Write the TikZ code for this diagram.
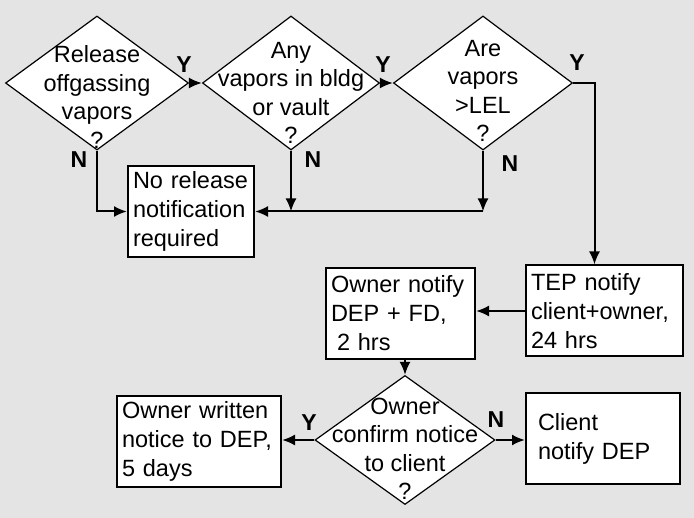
\documentclass[tikz,border=0pt]{standalone}
\usepackage{fontspec}
\setmainfont{Liberation Sans}
\usetikzlibrary{
    arrows.meta,
    shapes.geometric
}
\definecolor{panelgray}{RGB}{228,228,228}

\begin{document}
\begin{tikzpicture}[x=1pt, y=-1pt,
    decision/.style={diamond, draw, fill=white, line width=1.2pt, inner sep=0pt, minimum height=134pt},
    qtext/.style={align=center, font=\fontsize{23.5}{28.5}\selectfont, inner sep=0pt},
    stepbox/.style={rectangle, draw, fill=white, line width=2pt, align=left,
                    inner xsep=5pt, inner ysep=0pt, minimum height=91pt,
                    font=\fontsize{23.5}{29}\selectfont},
    yn/.style={font=\fontsize{23}{23}\selectfont\bfseries, inner sep=0pt},
    arr/.style={line width=2pt, -{Latex[length=13pt, width=11pt]}}
]
    \fill[panelgray] (0,0) rectangle (694,518);
    \useasboundingbox (0,0) rectangle (694,518);

    % questions
    \node[decision, minimum width=183pt,
          label={[qtext, yshift=-14pt]center:{Release\\offgassing\\vapors\\?}}] (rel) at (97,83) {};
    \node[decision, minimum width=177pt,
          label={[qtext, yshift=-10pt]center:{Any\\vapors in bldg\\or vault\\?}}] (vap) at (291,83) {};
    \node[decision, minimum width=179pt,
          label={[qtext, yshift=-8pt]center:{Are\\vapors\\>LEL\\?}}] (lel) at (483,83) {};
    \node[decision, minimum width=180pt, minimum height=129pt,
          label={[qtext, yshift=-9pt]center:{Owner\\confirm notice\\to client\\?}}] (conf) at (405,440) {};

    % actions
    \node[stepbox, text width=116pt] (norel) at (191,211.5) {No release\\notification\\required};
    \node[stepbox, text width=147pt] (tep) at (604.5,311) {TEP notify\\client+owner,\\24 hrs};
    \node[stepbox, text width=139pt] (ownn) at (400.5,313.5) {Owner notify\\DEP + FD,\\\hspace*{6pt}2 hrs};
    \node[stepbox, text width=154pt] (written) at (199,441.5) {Owner written\\notice to DEP,\\5 days};
    \node[stepbox, inner xsep=12pt, text width=130pt] (client) at (603,438.5) {Client\\notify DEP};

    % yes / no
    \node[yn] (rely) at (184,65) {Y};
    \node[yn] (vapy) at (383,65) {Y};
    \node[yn] (lely) at (577,63) {Y};
    \node[yn] (reln) at (79,160) {N};
    \node[yn] (vapn) at (313,160) {N};
    \node[yn] (leln) at (510,164) {N};
    \node[yn] (confy) at (309,423) {Y};
    \node[yn] (confn) at (496,420) {N};

    \coordinate (vapj) at (vap.south |- norel.east);
    \coordinate (lelj) at (lel.south |- norel.east);

    \draw[arr] (rel.east) -- (vap.west);
    \draw[arr] (vap.east) -- (lel.west);
    \draw[arr] (lel.east) -| ([xshift=-10pt]tep.north);
    \draw[arr] (rel.south) |- (norel.west);
    \draw[arr] (vap.south) -- (vapj);
    \draw[arr] (lel.south) -- (lelj);
    \draw[arr] (lelj) -- (norel.east);
    \draw[arr] (tep.west) -- (tep.west -| ownn.east);
    \draw[arr] (conf.north |- ownn.south) -- (conf.north);
    \draw[arr] (conf.west) -- (conf.west -| written.east);
    \draw[arr] (conf.east) -- (conf.east -| client.west);
\end{tikzpicture}
\end{document}
